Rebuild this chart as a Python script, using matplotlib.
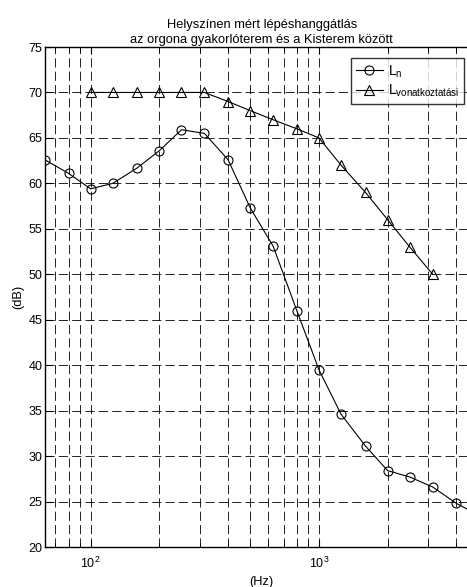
import numpy as np
import matplotlib
matplotlib.use("Agg")
import matplotlib.pyplot as plt
from matplotlib.ticker import FixedLocator, NullFormatter

plt.rcParams['font.family'] = ['Liberation Sans', 'DejaVu Sans']
plt.rcParams['mathtext.fontset'] = 'custom'
plt.rcParams['mathtext.rm'] = 'Liberation Sans'
plt.rcParams['mathtext.it'] = 'Liberation Sans'

# measured curve
freq_n = [63, 80, 100, 125, 160, 200, 250, 315, 400, 500, 630, 800,
          1000, 1250, 1600, 2000, 2500, 3150, 4000, 5000]
L_n = [62.6, 61.1, 59.4, 60.0, 61.7, 63.6, 65.9, 65.5, 62.6, 57.3, 53.1, 46.0,
       39.5, 34.6, 31.1, 28.4, 27.7, 26.6, 24.8, 23.5]

# shifted reference curve
freq_ref = [100, 125, 160, 200, 250, 315, 400, 500, 630, 800,
            1000, 1250, 1600, 2000, 2500, 3150]
L_ref = [70, 70, 70, 70, 70, 70, 69, 68, 67, 66, 65, 62, 59, 56, 53, 50]

title = 'Helyszínen mért lépéshanggátlás\naz orgona gyakorlóterem és a Kisterem között'

fig = plt.figure(figsize=(4.67, 5.87), dpi=100)
# axes runs past the right edge of the picture (cropped like the original)
ax = fig.add_axes([45 / 467, 40 / 587, 433.5 / 467, 500 / 587])

ax.semilogx(freq_n, L_n, 'k-', marker='o', mfc='none', mec='k', ms=6.5,
            lw=0.8, mew=0.8, label='L$_\\mathregular{n}$')
ax.semilogx(freq_ref, L_ref, 'k-', marker='^', mfc='none', mec='k', ms=7,
            lw=0.8, mew=0.8, label='L$_\\mathregular{vonatkoztatási}$')

ax.set_xlim(63.1, 5000)
ax.set_ylim(20, 75)
ax.set_yticks(np.arange(20, 76, 5))

ax.xaxis.set_major_locator(FixedLocator([100, 1000]))
ax.set_xticklabels(['$\\mathregular{10^{2}}$', '$\\mathregular{10^{3}}$'])
minor = [70, 80, 90, 200, 300, 400, 500, 600, 700, 800, 900, 2000, 3000, 4000]
ax.xaxis.set_minor_locator(FixedLocator(minor))
ax.xaxis.set_minor_formatter(NullFormatter())

ax.tick_params(which='both', direction='in', top=True, right=True, labelsize=9)
ax.tick_params(axis='y', pad=2)
ax.tick_params(axis='x', pad=6)
ax.tick_params(which='major', length=5)
ax.tick_params(which='minor', length=3)

ax.grid(True, which='both', color='k', linestyle=(0, (11, 5)), linewidth=0.6)
for s in ax.spines.values():
    s.set_linewidth(1.0)
ax.spines['right'].set_visible(False)

ax.set_title(title, fontsize=9.3, pad=3, linespacing=1.35)
ax.set_xlabel('(Hz)', fontsize=9.3, labelpad=4)
ax.set_ylabel('(dB)', fontsize=9.3, labelpad=3)

leg = ax.legend(loc='upper left', bbox_to_anchor=((350.7 - 45) / 433.5, (547 - 58.3) / 500),
                fontsize=10, frameon=True, fancybox=False, edgecolor='k',
                handlelength=2.0, handletextpad=0.3, borderaxespad=0,
                borderpad=0.35, labelspacing=0.25)
leg.get_frame().set_linewidth(1.0)

fig.savefig('out.png', dpi=100)
